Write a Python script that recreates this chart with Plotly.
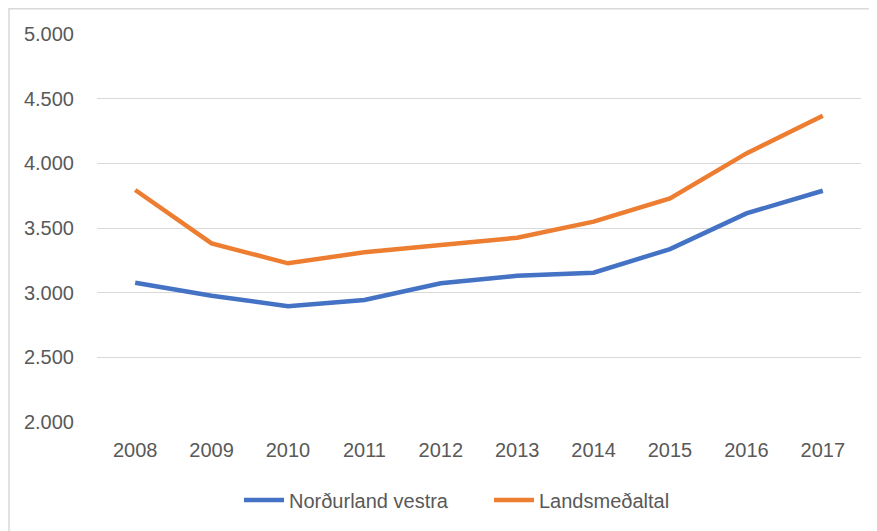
import plotly.graph_objects as go

years = ["2008", "2009", "2010", "2011", "2012", "2013", "2014", "2015", "2016", "2017"]
nordurland_vestra = [3077, 2976, 2896, 2943, 3072, 3131, 3154, 3337, 3613, 3788]
landsmedaltal = [3794, 3381, 3227, 3312, 3368, 3425, 3549, 3729, 4077, 4368]
y_ticks = [2000, 2500, 3000, 3500, 4000, 4500, 5000]

FONT = "Liberation Sans"
GRAY = "#595959"

L, R, T, B = 89, 24, 26, 117
PW = 877 - L - R
PH = 531 - T - B

fig = go.Figure()
fig.add_trace(go.Scatter(x=years, y=nordurland_vestra, mode="lines", name="Norðurland vestra",
                         line=dict(color="#4472C4", width=4.5)))
fig.add_trace(go.Scatter(x=years, y=landsmedaltal, mode="lines", name="Landsmeðaltal",
                         line=dict(color="#ED7D31", width=4.5)))

fig.update_layout(
    width=877, height=531,
    margin=dict(l=L, r=R, t=T, b=B),
    paper_bgcolor="white", plot_bgcolor="white",
    separators=",.",
    font=dict(family=FONT, size=20, color=GRAY),
    showlegend=True,
    legend=dict(orientation="h", x=(231 - L) / PW, xanchor="left", y=-0.201, yanchor="middle",
                font=dict(family=FONT, size=20, color=GRAY), itemwidth=40,
                entrywidth=195, entrywidthmode="pixels",
                bgcolor="rgba(0,0,0,0)"),
    xaxis=dict(type="category", range=[-0.5, 9.5], showgrid=False, zeroline=False,
               showline=False, ticks="", ticklabelstandoff=14,
               tickfont=dict(family=FONT, size=20, color=GRAY)),
    yaxis=dict(range=[2000, 5000], tickvals=y_ticks, tickformat=",", showgrid=True,
               gridcolor="#D9D9D9", gridwidth=1.3, zeroline=False, showline=False,
               ticks="", ticklabelstandoff=22,
               tickfont=dict(family=FONT, size=20, color=GRAY)),
    shapes=[dict(type="rect", xref="paper", yref="paper",
                 x0=(1 - L) / PW, x1=(900 - L) / PW,
                 y0=(PH - 560) / PH, y1=(PH + T - 0.8) / PH,
                 line=dict(color="#D9D9D9", width=1.5), fillcolor="rgba(0,0,0,0)",
                 layer="below")],
)

fig.write_html("out.html")
